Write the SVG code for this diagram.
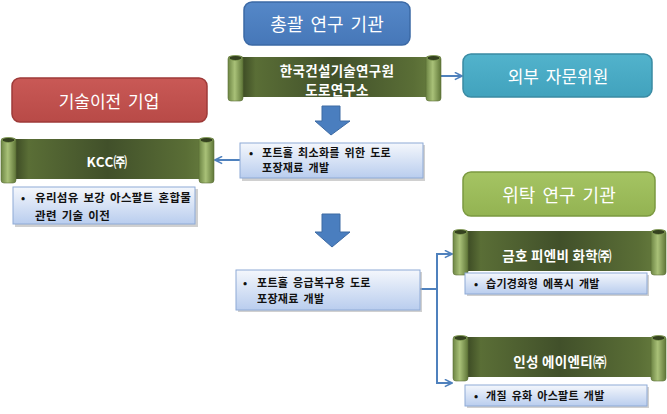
<svg xmlns="http://www.w3.org/2000/svg" xmlns:xlink="http://www.w3.org/1999/xlink" width="667" height="414" viewBox="0 0 667 414">
<style>
.hdr{font-family:"Noto Sans CJK KR","Noto Sans",sans-serif;font-size:18px;fill:#ffffff;text-anchor:middle;dominant-baseline:central;word-spacing:3px}
.scr{font-family:"Noto Sans CJK KR","Noto Sans",sans-serif;font-size:13.5px;font-weight:bold;fill:#ffffff;text-anchor:middle;dominant-baseline:central;letter-spacing:0.3px}
.bul{font-family:"Noto Sans CJK KR","Noto Sans",sans-serif;font-size:11px;font-weight:bold;fill:#111111;dominant-baseline:central;letter-spacing:0.3px;word-spacing:2px}
.bbox{fill:url(#bg);stroke:#8eaad6;stroke-width:1}
.shd{fill:#b0b0b0;opacity:0.6}
.con{fill:none;stroke:#4f81bd;stroke-width:2}
.blk{fill:#4a7ebf;stroke:#3d6aa3;stroke-width:1}
</style>
<defs>
<linearGradient id="bg" x1="0" y1="0" x2="0" y2="1">
<stop offset="0" stop-color="#f4f7fc"/>
<stop offset="1" stop-color="#b9cdee"/>
</linearGradient>
<linearGradient id="body" x1="0" y1="0" x2="1" y2="0">
<stop offset="0" stop-color="#2f3b1c"/>
<stop offset="0.1" stop-color="#5a6e36"/>
<stop offset="0.5" stop-color="#41502a"/>
<stop offset="0.9" stop-color="#5a6e36"/>
<stop offset="1" stop-color="#667c3e"/>
</linearGradient>
<linearGradient id="roll" x1="0" y1="0" x2="1" y2="0">
<stop offset="0" stop-color="#6d8544"/>
<stop offset="0.45" stop-color="#a9c178"/>
<stop offset="1" stop-color="#5f7638"/>
</linearGradient>
<linearGradient id="gB" x1="0" y1="0" x2="0" y2="1"><stop offset="0" stop-color="#5588c8"/><stop offset="1" stop-color="#4677b8"/></linearGradient>
<linearGradient id="gT" x1="0" y1="0" x2="0" y2="1"><stop offset="0" stop-color="#52b3cc"/><stop offset="1" stop-color="#41a2bd"/></linearGradient>
<linearGradient id="gR" x1="0" y1="0" x2="0" y2="1"><stop offset="0" stop-color="#c95956"/><stop offset="1" stop-color="#b84a47"/></linearGradient>
<linearGradient id="gG" x1="0" y1="0" x2="0" y2="1"><stop offset="0" stop-color="#a5c463"/><stop offset="1" stop-color="#93b352"/></linearGradient>
<marker id="ah" viewBox="0 0 10 10" refX="9" refY="5" markerWidth="9" markerHeight="9" markerUnits="userSpaceOnUse" orient="auto">
<path d="M1,1 L9,5 L1,9" fill="none" stroke="#4f81bd" stroke-width="1.8"/>
</marker>
<g id="scroll">
<rect x="8" y="3" width="197" height="40" fill="url(#body)"/>
<rect x="0" y="2" width="15" height="45" rx="3" fill="url(#roll)" stroke="#5a6e35" stroke-width="0.6"/>
<ellipse cx="7.5" cy="4" rx="6.5" ry="2.5" fill="#34411f" stroke="#8aa45a" stroke-width="0.8"/>
<rect x="198" y="2" width="15" height="45" rx="3" fill="url(#roll)" stroke="#5a6e35" stroke-width="0.6"/>
<ellipse cx="205.5" cy="4" rx="6.5" ry="2.5" fill="#34411f" stroke="#8aa45a" stroke-width="0.8"/>
</g>
</defs>
<rect width="667" height="414" fill="#ffffff"/>

<g id="connectors">
<line class="con" x1="441" y1="76" x2="462" y2="76" marker-end="url(#ah)"/>
<line class="con" x1="240" y1="160" x2="215" y2="160" marker-end="url(#ah)"/>
<polyline class="con" points="420,289 437,289"/>
<polyline class="con" points="452,254 437,254 437,383 452,383" marker-end="url(#ah)"/>
<line class="con" x1="437" y1="254" x2="452" y2="254" marker-end="url(#ah)"/>
<path class="blk" d="M322,106 H340 V121 H350 L331,135 L315,121 H322 Z"/>
<path class="blk" d="M322,214 H340 V232 H350 L332,247 L315,232 H322 Z"/>
</g>

<g id="hq">
<rect x="244" y="2" width="166" height="43" rx="8" fill="url(#gB)" stroke="#3b69a5" stroke-width="1.5"/>
<text class="hdr" x="327" y="23">총괄 연구 기관</text>
</g>
<g id="kict">
<use xlink:href="#scroll" x="228" y="54"/>
<text class="scr" x="337" y="70">한국건설기술연구원</text>
<text class="scr" x="337" y="89">도로연구소</text>
</g>
<g id="advisors">
<rect x="463" y="54" width="189" height="43" rx="8" fill="url(#gT)" stroke="#3a8ba3" stroke-width="1.5"/>
<text class="hdr" x="558" y="75" style="font-size:17px">외부 자문위원</text>
</g>
<g id="transfer">
<rect x="12" y="78" width="195" height="44" rx="8" fill="url(#gR)" stroke="#9e3a38" stroke-width="1.5"/>
<text class="hdr" x="109" y="100" style="font-size:17px">기술이전 기업</text>
</g>
<g id="kcc">
<use xlink:href="#scroll" x="1" y="136"/>
<text class="scr" x="107" y="161">KCC㈜</text>
</g>
<g id="kcc-task">
<rect class="shd" x="15" y="189" width="183" height="38"/>
<rect class="bbox" x="13" y="187" width="182" height="37"/>
<text class="bul" x="21" y="197">•</text>
<text class="bul" x="35" y="197" style="font-size:11.5px">유리섬유 보강 아스팔트 혼합물</text>
<text class="bul" x="35" y="215" style="font-size:11.5px">관련 기술 이전</text>
</g>
<g id="task1">
<rect class="shd" x="242" y="145" width="183" height="36"/>
<rect class="bbox" x="240" y="143" width="183" height="35"/>
<text class="bul" x="249" y="152">•</text>
<text class="bul" x="262" y="152">포트홀 최소화를 위한 도로</text>
<text class="bul" x="262" y="167">포장재료 개발</text>
</g>
<g id="task2">
<rect class="shd" x="238" y="272" width="184" height="40"/>
<rect class="bbox" x="236" y="270" width="184" height="40"/>
<text class="bul" x="243" y="282">•</text>
<text class="bul" x="257" y="282">포트홀 응급복구용 도로</text>
<text class="bul" x="257" y="298">포장재료 개발</text>
</g>
<g id="contract">
<rect x="463" y="172" width="192" height="44" rx="8" fill="url(#gG)" stroke="#7b9940" stroke-width="1.5"/>
<text class="hdr" x="559" y="194">위탁 연구 기관</text>
</g>
<g id="kumho">
<use xlink:href="#scroll" x="453" y="228"/>
<text class="scr" x="557" y="255">금호 피엔비 화학㈜</text>
</g>
<g id="kumho-task">
<rect class="shd" x="467" y="275" width="182" height="21"/>
<rect class="bbox" x="465" y="273" width="182" height="21"/>
<text class="bul" x="474" y="283">•</text>
<text class="bul" x="486" y="283">습기경화형 에폭시 개발</text>
</g>
<g id="insung">
<use xlink:href="#scroll" x="453" y="334"/>
<text class="scr" x="560" y="361">인성 에이엔티㈜</text>
</g>
<g id="insung-task">
<rect class="shd" x="467" y="387" width="182" height="21"/>
<rect class="bbox" x="465" y="385" width="182" height="21"/>
<text class="bul" x="474" y="395">•</text>
<text class="bul" x="486" y="395">개질 유화 아스팔트 개발</text>
</g>
</svg>
